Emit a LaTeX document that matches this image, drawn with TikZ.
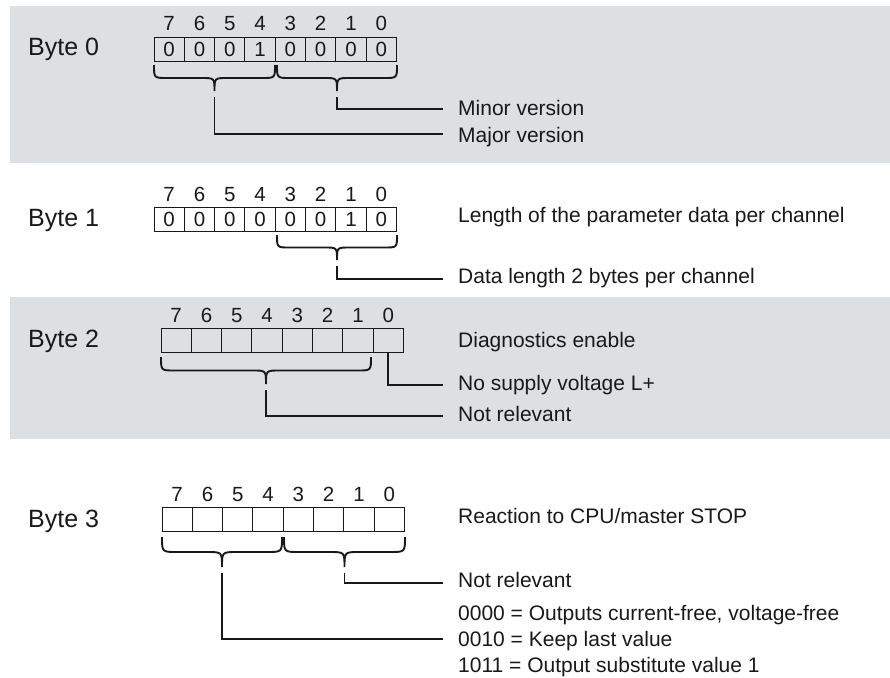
\documentclass[tikz,border=0pt]{standalone}
\usepackage{fontspec}
\setmainfont{Liberation Sans}
\definecolor{band}{RGB}{220,224,227}
\definecolor{ink}{RGB}{25,25,25}
\newcommand\drawbrace[5]{%
  \pgfmathsetmacro\xm{(#1+#2)/2}%
  \draw[brc] (#1,#3) .. controls (#1,#3+#4) .. (#1+#4,#3+#4) -- (\xm-#4,#3+#4)
    .. controls (\xm,#3+#4) .. (\xm,#3+2*#4)
    .. controls (\xm,#3+#4) .. (\xm+#4,#3+#4) -- (#2-#4,#3+#4)
    .. controls (#2,#3+#4) .. (#2,#3);
  \coordinate (#5) at (\xm,#3+2*#4+6);%
}
\newcommand\bytecells[4]{% #1 prefix, #2 x0, #3 ytop, #4 list i/v
  \foreach \i/\v in {#4} {
    \pgfmathtruncatemacro\bn{7-\i}
    \node[cell] (#1c\i) at ({#2+\i*30.3},#3) {\v};
    \node[bitnum] (#1n\i) at ({#2+(\i+0.5)*30.3},#3-6) {\bn};
  }%
}
\begin{document}
\begin{tikzpicture}[x=1pt,y=-1pt,
  cell/.style={draw=ink, line width=0.9pt, minimum width=30.3pt, minimum height=24pt,
    inner sep=0pt, outer sep=0pt, anchor=north west, text=ink,
    font=\fontsize{20.5}{21}\selectfont},
  bitnum/.style={anchor=base, inner sep=0pt, text=ink, font=\fontsize{20.5}{21}\selectfont},
  bytelbl/.style={anchor=base west, inner sep=0pt, text=ink, font=\fontsize{25}{27}\selectfont},
  desc/.style={anchor=base west, inner sep=0pt, text=ink, font=\fontsize{21}{24}\selectfont},
  brc/.style={draw=ink, line width=1.9pt},
  conn/.style={draw=ink, line width=1.9pt},
]
\useasboundingbox (0,0) rectangle (890,677);
\fill[band] (10,6) rectangle (890,163);
\fill[band] (10,297) rectangle (890,439);

% ---------- Byte 0
\node[bytelbl] (lb0) at (28,56) {Byte 0};
\bytecells{b0}{154}{37}{0/0,1/0,2/0,3/1,4/0,5/0,6/0,7/0}
\drawbrace{154}{275}{65}{13}{b0sA}
\drawbrace{277}{397}{65}{13}{b0sB}
\node[desc] (d0a) at (458,115) {Minor version};
\node[desc] (d0b) at (458,142.5) {Major version};
\coordinate (e0a) at (443,109);
\coordinate (e0b) at (443,134);
\draw[conn] (b0sB) |- (e0a);
\draw[conn] (b0sA) |- (e0b);

% ---------- Byte 1
\node[bytelbl] (lb1) at (28,226) {Byte 1};
\bytecells{b1}{154}{207}{0/0,1/0,2/0,3/0,4/0,5/0,6/1,7/0}
\drawbrace{277}{397}{235}{12.5}{b1sA}
\node[desc] (d1a) at (458,222) {Length of the parameter data per channel};
\node[desc] (d1b) at (458,283) {Data length 2 bytes per channel};
\coordinate (e1b) at (443,279);
\draw[conn] (b1sA) |- (e1b);

% ---------- Byte 2
\node[bytelbl] (lb2) at (28,347) {Byte 2};
\bytecells{b2}{161}{328}{0/,1/,2/,3/,4/,5/,6/,7/}
\drawbrace{161}{371}{357}{13.5}{b2sA}
\node[desc] (d2a) at (458,347) {Diagnostics enable};
\node[desc] (d2b) at (458,390.5) {No supply voltage L+};
\node[desc] (d2c) at (458,421) {Not relevant};
\coordinate (e2b) at (443,385);
\coordinate (e2c) at (443,416);
\draw[conn] (b2c7.south) |- (e2b);
\draw[conn] (b2sA) |- (e2c);

% ---------- Byte 3
\node[bytelbl] (lb3) at (28,527) {Byte 3};
\bytecells{b3}{162}{507}{0/,1/,2/,3/,4/,5/,6/,7/}
\drawbrace{162}{282}{537}{15}{b3sA}
\drawbrace{284}{405}{537}{15}{b3sB}
\node[desc] (d3a) at (458,523) {Reaction to CPU/master STOP};
\node[desc] (d3b) at (458,587) {Not relevant};
\node[desc] (d3c) at (458,620) {0000 = Outputs current-free, voltage-free};
\node[desc] (d3d) at (458,646) {0010 = Keep last value};
\node[desc] (d3e) at (458,672) {1011 = Output substitute value 1};
\coordinate (e3b) at (443,583);
\coordinate (e3d) at (443,639);
\draw[conn] (b3sB) |- (e3b);
\draw[conn] (b3sA) |- (e3d);
\end{tikzpicture}
\end{document}
